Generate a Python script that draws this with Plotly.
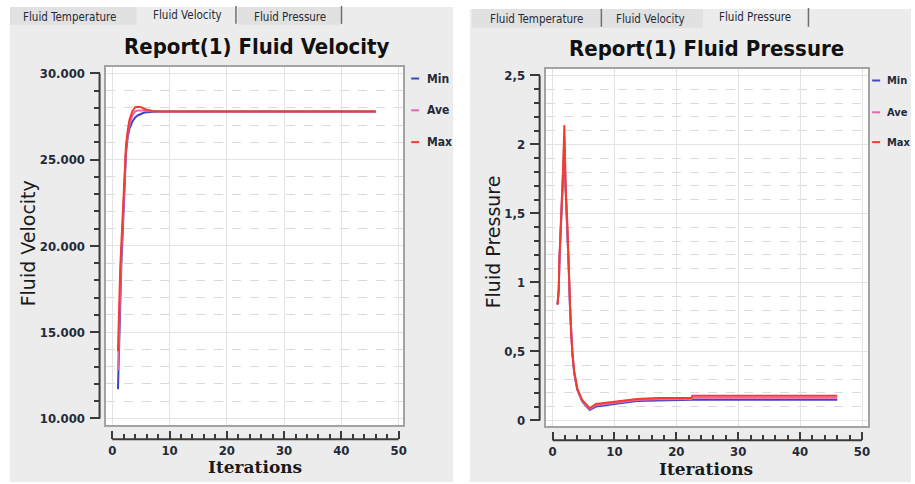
import plotly.graph_objects as go

# ---------------- data ----------------
vel_iter = [1, 1.2, 1.4, 1.6, 1.8, 2, 2.2, 2.4, 2.7, 3, 3.5, 4, 4.5, 5, 5.5, 6, 7, 8, 46]
vel_min = [11.7, 14.5, 17.2, 19.0, 20.5, 22.3, 24.3, 25.4, 26.3, 26.8, 27.2, 27.45, 27.58, 27.67, 27.72, 27.75, 27.78, 27.8, 27.8]
vel_ave = [12.8, 15.6, 18.0, 19.6, 21.0, 22.5, 24.4, 25.6, 26.5, 27.05, 27.55, 27.8, 27.86, 27.88, 27.86, 27.83, 27.8, 27.8, 27.8]
vel_max = [13.9, 16.8, 18.8, 20.2, 21.6, 22.7, 24.5, 25.8, 26.7, 27.3, 27.8, 28.05, 28.07, 28.05, 27.97, 27.9, 27.82, 27.8, 27.8]

pre_iter = [0.8, 1.0, 1.1, 1.3, 1.5, 1.7, 1.9, 2.1, 2.4, 2.6, 2.8, 2.95, 3.2, 3.5, 4.0, 4.8, 6.0, 7.0, 10.0, 13.6, 17, 22.4, 22.6, 46]
pre_min = [0.84, 0.95, 1.15, 1.36, 1.57, 1.78, 1.97, 1.68, 1.40, 1.11, 0.83, 0.65, 0.48, 0.34, 0.22, 0.135, 0.075, 0.10, 0.12, 0.14, 0.145, 0.148, 0.149, 0.149]
pre_ave = [0.84, 0.95, 1.16, 1.37, 1.59, 1.80, 2.05, 1.69, 1.41, 1.12, 0.84, 0.66, 0.49, 0.35, 0.225, 0.14, 0.082, 0.11, 0.128, 0.148, 0.154, 0.155, 0.165, 0.165]
pre_max = [0.84, 0.95, 1.17, 1.37, 1.60, 1.82, 2.14, 1.70, 1.41, 1.12, 0.84, 0.66, 0.49, 0.35, 0.23, 0.146, 0.088, 0.12, 0.135, 0.155, 0.162, 0.163, 0.178, 0.178]

series_names = ["Min", "Ave", "Max"]
x_tick_vals = [0, 10, 20, 30, 40, 50]
x_tick_text = ["0", "10", "20", "30", "40", "50"]
vel_tick_vals = [10, 15, 20, 25, 30]
vel_tick_text = ["10.000", "15.000", "20.000", "25.000", "30.000"]
pre_tick_vals = [0, 0.5, 1, 1.5, 2, 2.5]
pre_tick_text = ["0", "0,5", "1", "1,5", "2", "2,5"]
tab_labels = ["Fluid Temperature", "Fluid Velocity", "Fluid Pressure"]

# ---------------- styling ----------------
W, H = 915, 484
COLORS = ["#3c46c8", "#e465b4", "#f23c2c"]
PANEL = "#ececec"
TAB_DARK = "#e1e1e1"
TXT = "#252a38"
FRAME = "#a3a3a3"
AXL = "#3a3a3a"


def px(x):
    return x / W


def py(y):
    return 1 - y / H


fig = go.Figure()

for i, (name, ys) in enumerate(zip(series_names, [vel_min, vel_ave, vel_max])):
    fig.add_trace(go.Scatter(x=vel_iter, y=ys, mode="lines", name=name,
                             line=dict(color=COLORS[i], width=2),
                             xaxis="x", yaxis="y", showlegend=False))
for i, (name, ys) in enumerate(zip(series_names, [pre_min, pre_ave, pre_max])):
    fig.add_trace(go.Scatter(x=pre_iter, y=ys, mode="lines", name=name,
                             line=dict(color=COLORS[i], width=2),
                             xaxis="x2", yaxis="y2", showlegend=False))

grid_major = "#e3e3e3"
grid_minor = "#dadada"


def main_x(domain, rng):
    return dict(domain=domain, range=rng, showgrid=True, gridcolor=grid_major, gridwidth=1,
                tickmode="array", tickvals=x_tick_vals, showticklabels=False, ticks="",
                showline=True, mirror=True, linecolor=FRAME, linewidth=2, zeroline=False,
                fixedrange=True)


def main_y(domain, rng, tv, minor_d):
    return dict(domain=domain, range=rng, showgrid=True, gridcolor=grid_major, gridwidth=1,
                tickmode="array", tickvals=tv, showticklabels=False, ticks="",
                minor=dict(tickmode="linear", tick0=0, dtick=minor_d, showgrid=True,
                           gridcolor=grid_minor, griddash="dash", ticks=""),
                showline=True, mirror=True, linecolor=FRAME, linewidth=2, zeroline=False,
                fixedrange=True)


tickfont = dict(family="DejaVu Sans Condensed", size=13, color=TXT, weight="bold")


def tick_x(overlay, rng, pos):
    return dict(overlaying=overlay, anchor="free", position=pos, range=rng, side="bottom",
                tickmode="array", tickvals=x_tick_vals, ticktext=x_tick_text,
                ticks="inside", ticklen=8, tickwidth=2, tickcolor=AXL,
                minor=dict(tickmode="linear", tick0=0, dtick=2, ticks="inside", ticklen=5,
                           tickwidth=1.5, tickcolor=AXL, showgrid=False),
                showgrid=False, showline=False, zeroline=False, tickfont=tickfont,
                ticklabelstandoff=2, fixedrange=True)


def tick_y(overlay, rng, pos, tv, tt, minor_d):
    return dict(overlaying=overlay, anchor="free", position=pos, range=rng, side="left",
                tickmode="array", tickvals=tv, ticktext=tt,
                ticks="outside", ticklen=10, tickwidth=2, tickcolor=AXL,
                minor=dict(tickmode="linear", tick0=0, dtick=minor_d, ticks="outside", ticklen=6,
                           tickwidth=1.5, tickcolor=AXL, showgrid=False),
                showgrid=False, showline=False, zeroline=False, tickfont=tickfont,
                ticklabelstandoff=2, fixedrange=True)


L_xr = [-1.17, 50.8]
L_yr = [9.6, 30.4]
R_xr = [-1.13, 51.0]
R_yr = [-0.043, 2.55]
L_box = (106, 66, 405, 427)
R_box = (548, 68, 872, 428)
L_dx = [px(L_box[0]), px(L_box[2])]
L_dy = [py(L_box[3]), py(L_box[1])]
R_dx = [px(R_box[0]), px(R_box[2])]
R_dy = [py(R_box[3]), py(R_box[1])]

# dummy traces so the tick axes are rendered
fig.add_trace(go.Scatter(x=[None], y=[None], xaxis="x3", yaxis="y3", showlegend=False, hoverinfo="skip"))
fig.add_trace(go.Scatter(x=[None], y=[None], xaxis="x4", yaxis="y4", showlegend=False, hoverinfo="skip"))

fig.update_layout(
    width=W, height=H, margin=dict(l=0, r=0, t=0, b=0),
    paper_bgcolor="white", plot_bgcolor="white", showlegend=False,
    xaxis=main_x(L_dx, L_xr),
    yaxis=main_y(L_dy, L_yr, vel_tick_vals, 1),
    xaxis2=dict(main_x(R_dx, R_xr), anchor="y2"),
    yaxis2=dict(main_y(R_dy, R_yr, pre_tick_vals, 0.1), anchor="x2"),
    xaxis3=tick_x("x", L_xr, py(441)),
    yaxis3=tick_y("y", L_yr, px(100), vel_tick_vals, vel_tick_text, 1),
    xaxis4=tick_x("x2", R_xr, py(442)),
    yaxis4=tick_y("y2", R_yr, px(542), pre_tick_vals, pre_tick_text, 0.1),
)
fig.layout.xaxis3.domain = L_dx
fig.layout.yaxis3.domain = L_dy
fig.layout.xaxis4.domain = R_dx
fig.layout.yaxis4.domain = R_dy

shapes = []
annotations = []


def rect(x0, y0, x1, y1, color):
    shapes.append(dict(type="rect", xref="paper", yref="paper", x0=px(x0), x1=px(x1),
                       y0=py(y1), y1=py(y0), fillcolor=color, line=dict(width=0), layer="below"))


def vline(x, y0, y1, color="#6e6e6e", w=1.5):
    shapes.append(dict(type="line", xref="paper", yref="paper", x0=px(x), x1=px(x),
                       y0=py(y0), y1=py(y1), line=dict(color=color, width=w)))


def text(x, y, s, size, color=TXT, family="DejaVu Sans Condensed", weight="normal",
         xanchor="center", angle=0):
    annotations.append(dict(x=px(x), y=py(y), xref="paper", yref="paper", text=s, showarrow=False,
                            xanchor=xanchor, yanchor="middle", textangle=angle,
                            font=dict(family=family, size=size, color=color, weight=weight)))


# panels
rect(10, 6, 455, 484, PANEL)
rect(472, 8, 915, 484, PANEL)
# white plot areas
rect(*L_box, "white")
rect(*R_box, "white")
# left tabs
rect(10, 6, 137, 24, TAB_DARK)
rect(239, 6, 342, 24, TAB_DARK)
vline(237, 5, 23)
vline(343, 5, 23)
text(70, 16, tab_labels[0], 11.5)
text(188, 14, tab_labels[1], 11.5)
text(291, 16, tab_labels[2], 11.5)
# right tabs
rect(474, 8, 603, 27, TAB_DARK)
rect(605, 8, 706, 27, TAB_DARK)
vline(604, 8, 26)
vline(812, 7, 26)
text(539, 18, tab_labels[0], 11.5)
text(653, 18, tab_labels[1], 11.5)
text(758, 16, tab_labels[2], 11.5)

# titles
text(258, 46, "Report(1) Fluid Velocity", 22, color="#111111", weight="bold")
text(710, 48, "Report(1) Fluid Pressure", 22, color="#111111", weight="bold")
# axis titles
text(29, 244, "Fluid Velocity", 19, color="#1a1a1a", family="DejaVu Sans", angle=-90)
text(495, 242, "Fluid Pressure", 19, color="#1a1a1a", family="DejaVu Sans", angle=-90)
text(256, 469, "Iterations", 17, color="#1a1a1a", family="DejaVu Serif", weight="bold")
text(709, 471, "Iterations", 17, color="#1a1a1a", family="DejaVu Serif", weight="bold")

# axis lines (tick-axis baselines)
shapes.append(dict(type="line", xref="paper", yref="y", x0=px(100), x1=px(100),
                   y0=min(vel_tick_vals), y1=max(vel_tick_vals), line=dict(color=AXL, width=2)))
shapes.append(dict(type="line", xref="x", yref="paper", x0=min(x_tick_vals), x1=max(x_tick_vals),
                   y0=py(441), y1=py(441), line=dict(color=AXL, width=2)))
shapes.append(dict(type="line", xref="paper", yref="y2", x0=px(542), x1=px(542),
                   y0=min(pre_tick_vals), y1=max(pre_tick_vals), line=dict(color=AXL, width=2)))
shapes.append(dict(type="line", xref="x2", yref="paper", x0=min(x_tick_vals), x1=max(x_tick_vals),
                   y0=py(442), y1=py(442), line=dict(color=AXL, width=2)))

# legends
for i, name in enumerate(series_names):
    yl = [78, 110, 142][i]
    shapes.append(dict(type="line", xref="paper", yref="paper", x0=px(413), x1=px(421),
                       y0=py(yl), y1=py(yl), line=dict(color=COLORS[i], width=2)))
    text(427, yl, name, 12, xanchor="left", weight="bold")
    yr = [80, 112, 142][i]
    shapes.append(dict(type="line", xref="paper", yref="paper", x0=px(876), x1=px(884),
                       y0=py(yr), y1=py(yr), line=dict(color=COLORS[i], width=2)))
    text(889, yr, name, 11, xanchor="left", weight="bold")

fig.update_layout(shapes=shapes, annotations=annotations)
fig.write_html("out.html", config={"displayModeBar": False},
               post_script="document.body.style.margin='0';document.body.style.overflow='hidden';")
